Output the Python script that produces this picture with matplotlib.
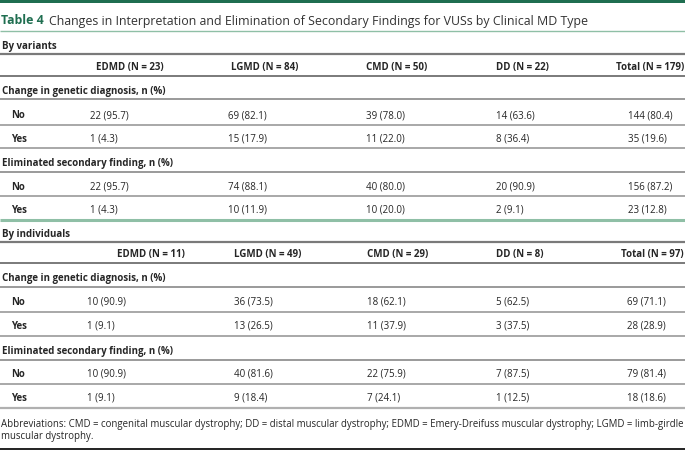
import matplotlib
matplotlib.use("Agg")
import matplotlib.pyplot as plt
from matplotlib.lines import Line2D
from matplotlib.patches import Rectangle

# ---------------- data ----------------
title_label = "Table 4"
title_text = "Changes in Interpretation and Elimination of Secondary Findings for VUSs by Clinical MD Type"
groups = ["EDMD", "LGMD", "CMD", "DD", "Total"]
n_variants = [23, 84, 50, 22, 179]
n_individuals = [11, 49, 29, 8, 97]

var_change_no_n = [22, 69, 39, 14, 144]
var_change_no_p = [95.7, 82.1, 78.0, 63.6, 80.4]
var_change_yes_n = [1, 15, 11, 8, 35]
var_change_yes_p = [4.3, 17.9, 22.0, 36.4, 19.6]
var_elim_no_n = [22, 74, 40, 20, 156]
var_elim_no_p = [95.7, 88.1, 80.0, 90.9, 87.2]
var_elim_yes_n = [1, 10, 10, 2, 23]
var_elim_yes_p = [4.3, 11.9, 20.0, 9.1, 12.8]

ind_change_no_n = [10, 36, 18, 5, 69]
ind_change_no_p = [90.9, 73.5, 62.1, 62.5, 71.1]
ind_change_yes_n = [1, 13, 11, 3, 28]
ind_change_yes_p = [9.1, 26.5, 37.9, 37.5, 28.9]
ind_elim_no_n = [10, 40, 22, 7, 79]
ind_elim_no_p = [90.9, 81.6, 75.9, 87.5, 81.4]
ind_elim_yes_n = [1, 9, 7, 1, 18]
ind_elim_yes_p = [9.1, 18.4, 24.1, 12.5, 18.6]

section_names = ["By variants", "By individuals"]
sub_names = ["Change in genetic diagnosis, n (%)", "Eliminated secondary finding, n (%)"]
row_names = ["No", "Yes"]
footnote = ["Abbreviations: CMD = congenital muscular dystrophy; DD = distal muscular dystrophy; EDMD = Emery-Dreifuss muscular dystrophy; LGMD = limb-girdle",
            "muscular dystrophy."]

# ---------------- layout ----------------
W, H = 685, 452
fig = plt.figure(figsize=(W / 100, H / 100), dpi=100)
ax = fig.add_axes([0, 0, 1, 1])
ax.set_xlim(0, W)
ax.set_ylim(H, 0)
ax.axis("off")

FONT = ["Open Sans", "DejaVu Sans"]
GREEN = "#1f6e50"
LGREEN = "#8fbfa6"
TXT = "#262626"
FS = 7.0
DY = 1.5  # visual centering correction

def hline(y, color="#9a9a9a", lw=1.2):
    ax.add_line(Line2D([0, W], [y, y], color=color, lw=lw, solid_capstyle="butt"))

def txt(x, y, s, bold=False, ha="left", size=FS, color=TXT):
    return ax.text(x, y + DY, s, ha=ha, va="center", fontsize=size, family=FONT,
                   fontweight="bold" if bold else "normal", color=color)

# top bar
ax.add_patch(Rectangle((0, 0), W, 4, color=GREEN, lw=0))
# title
ax.text(1, 21, title_label, ha="left", va="center", fontsize=8.9, family=FONT,
        fontweight="bold", color=GREEN)
ax.text(49, 21, title_text, ha="left", va="center", fontsize=8.9, family=FONT, color="#333333")
hline(32, color=LGREEN, lw=1.0)

# row text y-positions: section, header, sub1, no, yes, sub2, no, yes
# line y-positions: after each of those rows
sections = [
    dict(ty=[45, 66, 90, 114, 138, 162, 186, 209],
         ly=[55, 77, 100, 126, 149, 173, 197, 221],
         n=n_variants,
         hx=[96, 231, 366, 496, None], dx=[90, 228, 366, 496, 628],
         rows=[[(var_change_no_n, var_change_no_p), (var_change_yes_n, var_change_yes_p)],
               [(var_elim_no_n, var_elim_no_p), (var_elim_yes_n, var_elim_yes_p)]]),
    dict(ty=[233, 253, 277, 301, 325, 350, 373, 397],
         ly=[243, 264, 288, 313, 337, 361, 385, 409],
         n=n_individuals,
         hx=[117, 234, 367, 496, None], dx=[87, 234, 367, 496, 627],
         rows=[[(ind_change_no_n, ind_change_no_p), (ind_change_yes_n, ind_change_yes_p)],
               [(ind_elim_no_n, ind_elim_no_p), (ind_elim_yes_n, ind_elim_yes_p)]]),
]

for si, sec in enumerate(sections):
    ty, ly = sec["ty"], sec["ly"]
    txt(2, ty[0], section_names[si], bold=True)
    hline(ly[0], color="#7a7a7a", lw=1.6)
    for gi, g in enumerate(groups):
        lab = f"{g} (N = {sec['n'][gi]})"
        if sec["hx"][gi] is None:
            txt(684, ty[1], lab, bold=True, ha="right")
        else:
            txt(sec["hx"][gi], ty[1], lab, bold=True)
    hline(ly[1], color="#7a7a7a", lw=1.4)
    k = 2
    for bi in range(2):
        txt(2, ty[k], sub_names[bi], bold=True)
        hline(ly[k], color="#9a9a9a", lw=1.4)
        k += 1
        for ri in range(2):
            nvals, pvals = sec["rows"][bi][ri]
            txt(11, ty[k], row_names[ri], bold=True)
            for gi in range(len(groups)):
                txt(sec["dx"][gi], ty[k], f"{nvals[gi]} ({pvals[gi]:.1f})")
            if k == 7:
                if si == 0:
                    hline(ly[k], color=LGREEN, lw=2.2)
                else:
                    hline(ly[k], color="#b0b0b0", lw=1.6)
            else:
                hline(ly[k], color="#9a9a9a", lw=1.2)
            k += 1

txt(1, 423, footnote[0], size=6.95)
txt(1, 435, footnote[1], size=6.95)
hline(450, color="#222222", lw=1.4)

fig.savefig("out.png", dpi=100)
